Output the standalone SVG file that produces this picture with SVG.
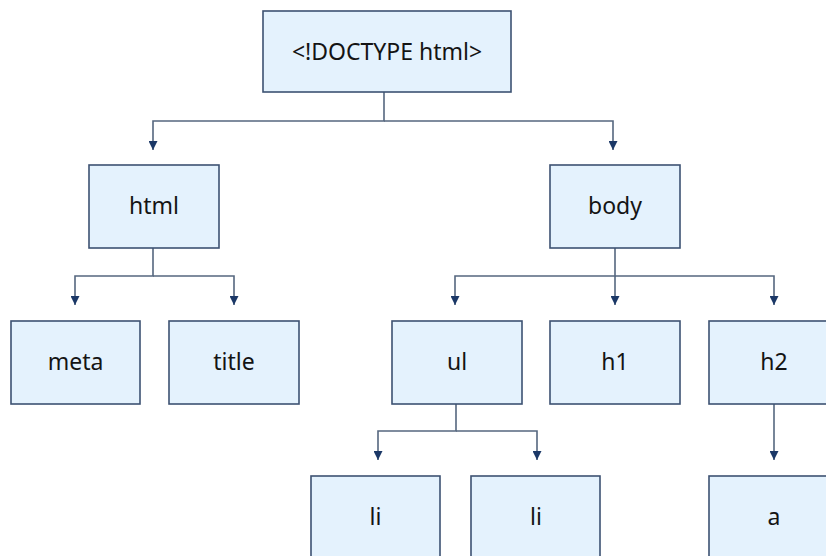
<svg xmlns="http://www.w3.org/2000/svg" width="826" height="556" viewBox="0 0 826 556">
  <style>
    .box { fill: #e4f2fd; stroke: #3d5272; stroke-width: 1.6; }
    .lbl { font-family: "Noto Sans", "Open Sans", sans-serif; font-size: 23px; fill: #141414; text-anchor: middle; }
    .conn { fill: none; stroke: #55677f; stroke-width: 1.6; }
  </style>
  <defs>
    <marker id="arr" viewBox="0 0 10 10" refX="10" refY="5" markerWidth="10" markerHeight="9" markerUnits="userSpaceOnUse" orient="auto">
      <path d="M0 0 L10 5 L0 10 z" fill="#1b3867"/>
    </marker>
  </defs>
  <rect width="826" height="556" fill="#ffffff"/>
  <g id="connectors">
    <path class="conn" d="M384 92 V121 H153 V150" marker-end="url(#arr)"/>
    <path class="conn" d="M384 121 H613 V150" marker-end="url(#arr)"/>
    <path class="conn" d="M153 248 V276 H75 V305" marker-end="url(#arr)"/>
    <path class="conn" d="M153 276 H234 V305" marker-end="url(#arr)"/>
    <path class="conn" d="M615 248 V276 H455 V305" marker-end="url(#arr)"/>
    <path class="conn" d="M615 276 V305" marker-end="url(#arr)"/>
    <path class="conn" d="M615 276 H774 V305" marker-end="url(#arr)"/>
    <path class="conn" d="M456 404 V431 H378 V460" marker-end="url(#arr)"/>
    <path class="conn" d="M456 431 H537 V460" marker-end="url(#arr)"/>
    <path class="conn" d="M774 404 V460" marker-end="url(#arr)"/>
  </g>
  <g id="doctype"><rect class="box" x="263" y="11" width="248" height="81"/><text class="lbl" x="387" y="59.5">&lt;!DOCTYPE html&gt;</text></g>
  <g id="html"><rect class="box" x="89" y="165" width="130" height="83"/><text class="lbl" x="154" y="214">html</text></g>
  <g id="body"><rect class="box" x="550" y="165" width="130" height="83"/><text class="lbl" x="615" y="214">body</text></g>
  <g id="meta"><rect class="box" x="11" y="321" width="129" height="83"/><text class="lbl" x="75.5" y="370">meta</text></g>
  <g id="title"><rect class="box" x="169" y="321" width="130" height="83"/><text class="lbl" x="234" y="370">title</text></g>
  <g id="ul"><rect class="box" x="392" y="321" width="130" height="83"/><text class="lbl" x="457" y="370">ul</text></g>
  <g id="h1"><rect class="box" x="550" y="321" width="130" height="83"/><text class="lbl" x="615" y="370">h1</text></g>
  <g id="h2"><rect class="box" x="709" y="321" width="130" height="83"/><text class="lbl" x="774" y="370">h2</text></g>
  <g id="li1"><rect class="box" x="311" y="476" width="129" height="83"/><text class="lbl" x="375.5" y="525">li</text></g>
  <g id="li2"><rect class="box" x="471" y="476" width="129" height="83"/><text class="lbl" x="536" y="525">li</text></g>
  <g id="a"><rect class="box" x="709" y="476" width="130" height="83"/><text class="lbl" x="774" y="525">a</text></g>
</svg>
